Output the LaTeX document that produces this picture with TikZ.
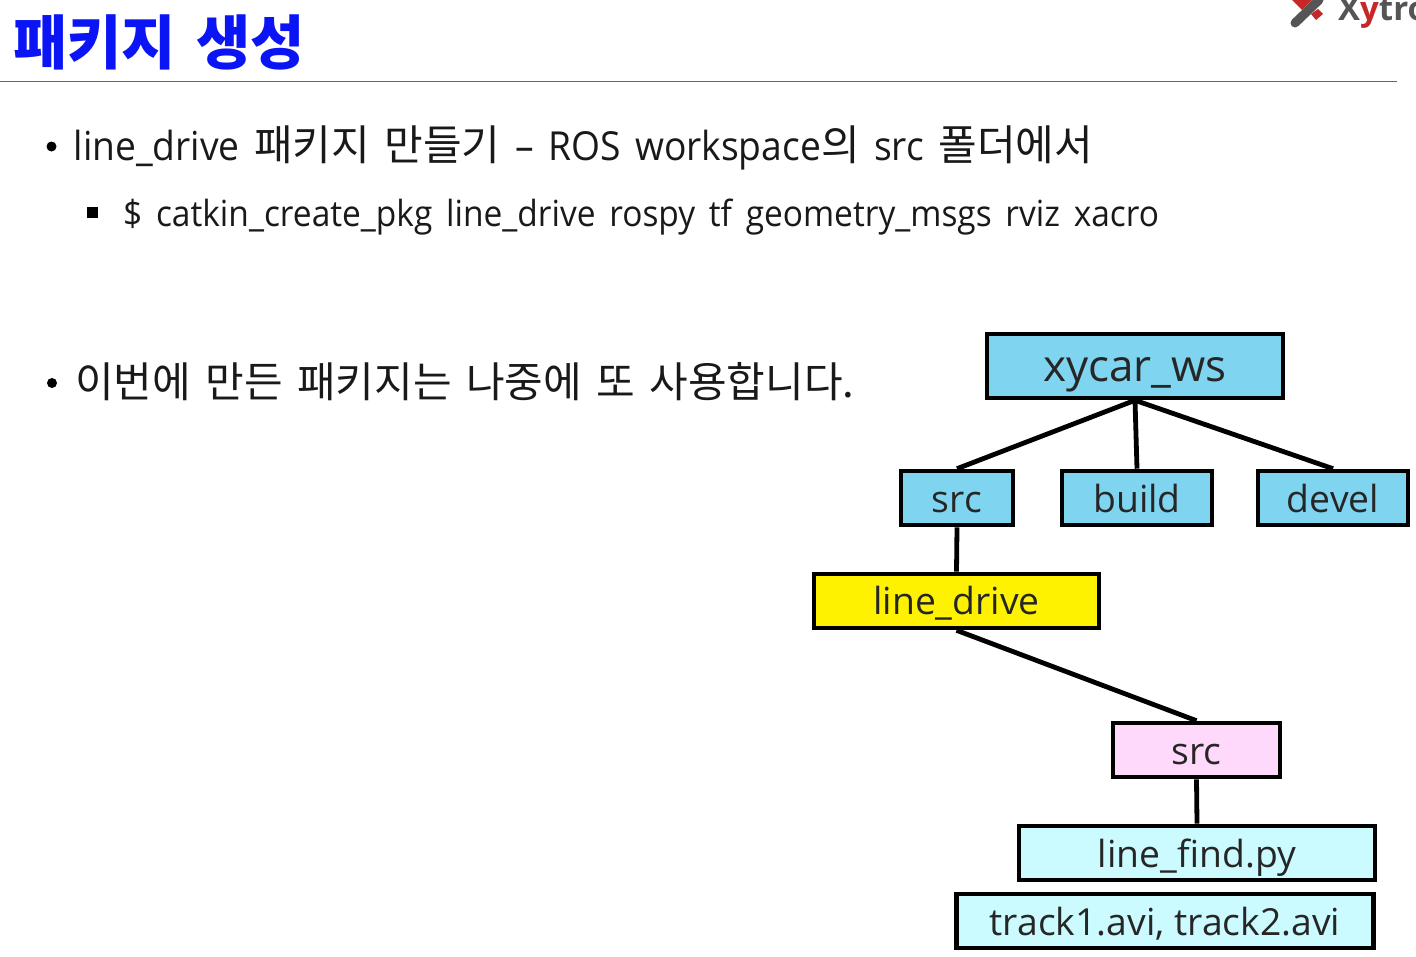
\documentclass[tikz,border=0pt]{standalone}
\usepackage{fontspec}
\setmainfont{Open Sans}
\newfontfamily\narrowf[FakeStretch=0.93]{Open Sans}
\newfontfamily\kr{Noto Sans CJK KR}
\definecolor{sky}{HTML}{7FD4F0}
\definecolor{lemon}{HTML}{FFF200}
\definecolor{pinkish}{HTML}{FFD9FB}
\definecolor{cyanish}{HTML}{CCFBFF}
\definecolor{logogray}{HTML}{555555}
\definecolor{logored}{HTML}{C62828}
\definecolor{titleblue}{HTML}{0A14F5}
\newcommand{\krs}[1]{{\fontsize{42}{42}\kr #1}}
\tikzset{
  treebox/.style={draw=black,line width=4.6pt,rectangle,minimum height=#1,inner ysep=0pt,inner xsep=0pt,text=black!85,text depth=0pt,text height=28pt,font=\fontsize{37.3}{38}\selectfont},
  treebox/.default=54pt,
  link/.style={draw=black,line width=4.8pt},
  bodytext/.style={anchor=base west,inner sep=0pt,text=black!90,font=\fontsize{40}{40}\selectfont\narrowf},
}
\begin{document}
\begin{tikzpicture}[x=1pt,y=-1pt]
\useasboundingbox (0,0) rectangle (1416,956);
\fill[white] (0,0) rectangle (1416,956);
% title
\node[anchor=base west,inner sep=0pt,text=titleblue,font=\fontsize{59}{59}\selectfont\kr\bfseries] (title) at (13,64) {패키지\hspace{7pt} 생성};
\coordinate (ruleL) at (0,81.5); \coordinate (ruleR) at (1397,81.5);
\draw[line width=1.2pt,color=black!60] (ruleL) -- (ruleR);
% logo
\begin{scope}
\clip (1280,0) rectangle (1416,40);
\draw[logogray,line width=9pt,line cap=round] (1295,23) -- (1319,0);
\fill[logored] (1292,0) -- (1302,10) -- (1312,0) -- cycle;
\fill[logored] (1311,14) -- (1318,9) -- (1323,14) -- (1316,20) -- cycle;
\node[anchor=base west,inner sep=0pt,font=\fontsize{33}{33}\selectfont\bfseries,text=logogray] (logo) at (1338,20) {X\textcolor{logored}{y}tro};
\end{scope}
% body text
\fill[black] (51.5,146.5) circle (5pt);
\node[bodytext] (l1) at (73.5,160) {\spaceskip=14.5pt\relax line\_drive \krs{패키지} \krs{만들기} – ROS workspace\krs{의} src \krs{폴더에서}};
\fill[black] (87,207) rectangle (98,218);
\node[bodytext,font=\fontsize{36}{36}\selectfont\narrowf] (l2) at (123,226.5) {\spaceskip=13.7pt\relax \$ catkin\_create\_pkg line\_drive rospy tf geometry\_msgs rviz xacro};
\fill[black] (52,383) circle (5pt);
\node[bodytext] (l3) at (75,397) {\spaceskip=14.4pt\relax \krs{이번에} \krs{만든} \krs{패키지는} \krs{나중에} \krs{또} \krs{사용합니다.}};
% tree
\node[treebox=64pt,fill=sky,minimum width=296pt,font=\fontsize{44}{44}\selectfont,text height=31pt] (ws) at (1135,366) {xycar\_ws};
\node[treebox,fill=sky,minimum width=112pt] (src) at (957,498) {src};
\node[treebox,fill=sky,minimum width=150pt] (build) at (1137,498) {build};
\node[treebox,fill=sky,minimum width=150pt] (devel) at (1333,498) {devel};
\node[treebox,fill=lemon,minimum width=285pt,text height=26pt] (ld) at (956.5,601) {line\_drive};
\node[treebox,fill=pinkish,minimum width=167pt] (src2) at (1196.5,750) {src};
\node[treebox,fill=cyanish,minimum width=356pt] (lf) at (1197,853) {line\_find.py};
\node[treebox,fill=cyanish,minimum width=417pt] (tr) at (1165,921) {track1.avi, track2.avi};
\draw[link] (ws.south) -- (src.north);
\draw[link] (ws.south) -- (build.north);
\draw[link] (ws.south) -- (devel.north);
\draw[link] (src.south) -- (ld.north);
\draw[link] (ld.south) -- (src2.north);
\draw[link] (src2.south) -- (lf.north);
\end{tikzpicture}
\end{document}
